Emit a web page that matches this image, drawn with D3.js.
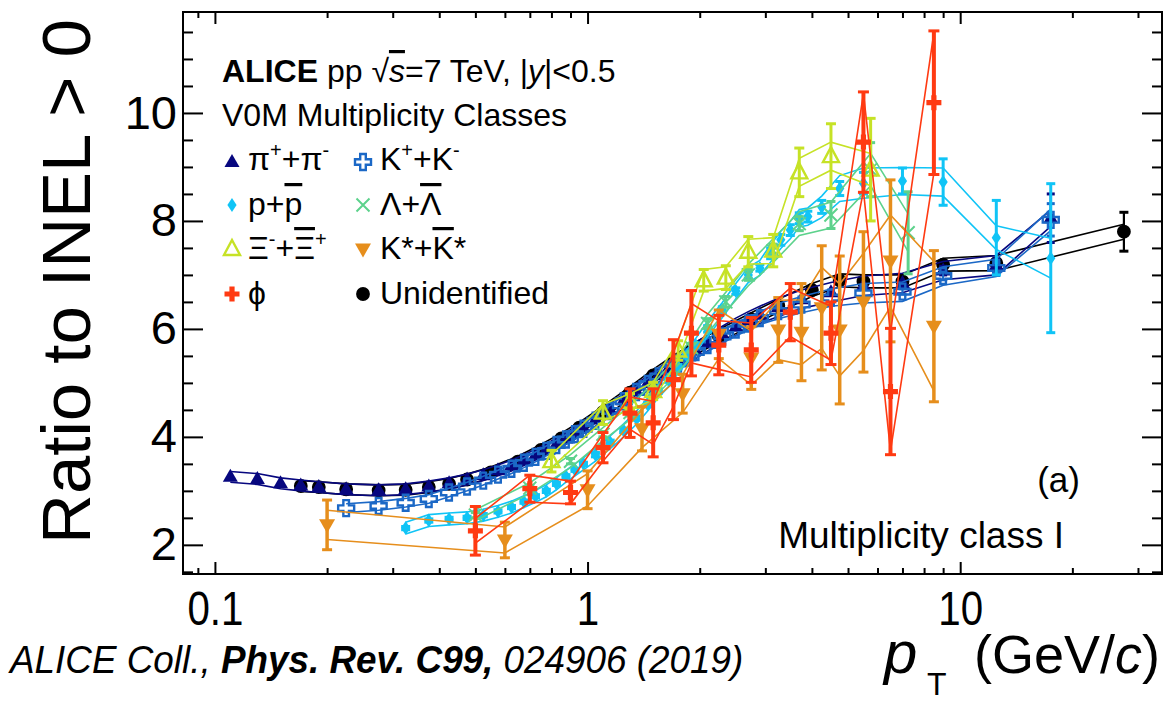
<!DOCTYPE html>
<html><head><meta charset="utf-8">
<script src="https://cdnjs.cloudflare.com/ajax/libs/d3/7.8.5/d3.min.js"></script>
<style>
body{margin:0;background:#fff}
svg{display:block}
text{font-family:"Liberation Sans",Arial,Helvetica,sans-serif;fill:#000}
</style></head>
<body><svg id="c" width="1166" height="705"></svg>
<script>
// ---------- tick labels ----------
const xMajor=[0.1,1,10];
const xMinor=[0.09,0.2,0.3,0.4,0.5,0.6,0.7,0.8,0.9,2,3,4,5,6,7,8,9,20,30];
const yMajor=[2,4,6,8,10];
const yMinor=[1.5,2.5,3,3.5,4.5,5,5.5,6.5,7,7.5,8.5,9,9.5,10.5,11,11.5];

// ---------- data (ratio to INEL>0, multiplicity class I) ----------
const pionPt=[0.11,0.13,0.15,0.17,0.19,0.225,0.275,0.325,0.375,0.425,0.475,0.525,0.575,0.625,0.675,0.725,0.775,0.825,0.875,0.925,0.975,1.05,1.15,1.25,1.35,1.45,1.55,1.65,1.75,1.85,1.95,2.1,2.3,2.5,2.7,2.9,3.25,3.75,4.5,5.5,7,9,12.5,17.5];
const pionVal=[3.26,3.22,3.14,3.10,3.07,3.03,3.01,3.03,3.08,3.14,3.21,3.29,3.38,3.47,3.57,3.67,3.77,3.87,3.97,4.07,4.17,4.32,4.50,4.68,4.85,5.00,5.14,5.27,5.39,5.50,5.60,5.74,5.90,6.04,6.16,6.26,6.40,6.55,6.68,6.80,6.85,7.08,7.18,8.05];
const pionSys=[0.10,0.10,0.10,0.10,0.10,0.10,0.10,0.10,0.10,0.10,0.10,0.10,0.10,0.10,0.10,0.10,0.10,0.11,0.11,0.11,0.11,0.12,0.12,0.12,0.13,0.13,0.13,0.14,0.14,0.14,0.15,0.15,0.15,0.16,0.16,0.16,0.17,0.17,0.18,0.18,0.18,0.17,0.18,0.15];
const pionStat=[0,0,0,0,0,0,0,0,0,0,0,0,0,0,0,0,0,0,0,0,0,0,0,0,0,0,0,0,0,0,0,0,0,0,0,0,0,0,0,0,0,0.08,0.12,0.45];

const kaonPt=[0.225,0.275,0.325,0.375,0.425,0.475,0.525,0.575,0.625,0.675,0.725,0.775,0.825,0.875,0.925,0.975,1.05,1.15,1.25,1.35,1.45,1.55,1.65,1.75,1.85,1.95,2.1,2.3,2.5,2.7,2.9,3.25,3.75,4.5,5.5,7,9,12.5,17.5];
const kaonVal=[2.68,2.72,2.78,2.85,2.97,3.08,3.19,3.30,3.41,3.52,3.63,3.74,3.85,3.95,4.05,4.15,4.30,4.48,4.66,4.83,4.98,5.12,5.25,5.36,5.47,5.57,5.70,5.86,5.99,6.10,6.20,6.33,6.45,6.58,6.66,6.69,6.98,7.13,8.02];
const kaonSys=[0.08,0.08,0.08,0.08,0.08,0.08,0.08,0.08,0.09,0.09,0.09,0.09,0.09,0.09,0.09,0.09,0.10,0.10,0.10,0.10,0.10,0.11,0.11,0.11,0.11,0.11,0.12,0.12,0.12,0.12,0.12,0.14,0.15,0.16,0.18,0.18,0.17,0.16,0.20];
const kaonStat=[0,0,0,0,0,0,0,0,0,0,0,0,0,0,0,0,0,0,0,0,0,0,0,0,0,0,0,0,0,0,0,0,0,0,0,0.05,0.07,0.10,0.30];

const unidPt=[0.17,0.19,0.225,0.275,0.325,0.375,0.425,0.475,0.55,0.65,0.75,0.85,0.95,1.1,1.3,1.5,1.7,1.9,2.25,2.75,3.25,4.0,4.75,5.5,7,9,12.5,27.5];
const unidVal=[3.09,3.07,3.03,3.01,3.02,3.07,3.13,3.21,3.34,3.54,3.76,3.97,4.17,4.46,4.82,5.14,5.40,5.60,5.87,6.18,6.43,6.72,6.90,6.88,6.88,7.19,7.22,7.80];
const unidSys=[0.10,0.10,0.10,0.10,0.10,0.10,0.10,0.10,0.10,0.10,0.10,0.10,0.10,0.11,0.11,0.11,0.11,0.11,0.12,0.12,0.12,0.12,0.12,0.12,0.12,0.12,0.14,0.14];
const unidStat=[0,0,0,0,0,0,0,0,0,0,0,0,0,0,0,0,0,0,0,0,0,0,0,0,0,0,0,0.36];

const protonPt=[0.325,0.375,0.425,0.475,0.525,0.575,0.625,0.675,0.725,0.775,0.825,0.875,0.925,0.975,1.05,1.15,1.25,1.35,1.45,1.55,1.65,1.75,1.85,1.95,2.1,2.3,2.5,2.7,2.9,3.1,3.3,3.5,3.7,3.9,4.25,4.75,5.5,7,9,12.5,17.5];
const protonVal=[2.31,2.45,2.48,2.50,2.55,2.62,2.70,2.80,2.90,3.00,3.13,3.27,3.39,3.50,3.67,3.90,4.12,4.35,4.60,4.85,5.05,5.30,5.50,5.70,6.00,6.35,6.70,7.00,7.13,7.40,7.65,7.83,8.05,8.08,8.26,8.60,8.70,8.74,8.72,7.69,7.31];
const protonSys=[0.11,0.11,0.11,0.11,0.11,0.11,0.11,0.11,0.11,0.11,0.11,0.11,0.11,0.11,0.12,0.12,0.12,0.12,0.12,0.12,0.12,0.12,0.12,0.12,0.14,0.14,0.14,0.14,0.14,0.16,0.16,0.16,0.16,0.16,0.20,0.24,0.28,0.25,0.26,0.22,0.37];
const protonStat=[0.03,0.03,0.03,0.03,0.03,0.03,0.03,0.03,0.03,0.03,0.03,0.03,0.03,0.03,0.04,0.04,0.04,0.04,0.04,0.04,0.04,0.04,0.04,0.04,0.06,0.06,0.06,0.06,0.06,0.10,0.10,0.10,0.10,0.10,0.12,0.13,0.20,0.24,0.43,0.69,1.38];

const lambdaPt=[0.5,0.7,0.9,1.1,1.3,1.5,1.7,1.9,2.1,2.35,2.7,3.15,3.7,4.5,5.75,7.25];
const lambdaVal=[2.55,3.05,3.55,4.05,4.45,4.85,5.25,5.65,6.10,6.50,7.00,7.45,7.95,8.11,8.95,7.78];
const lambdaSys=[0.10,0.10,0.12,0.12,0.13,0.14,0.15,0.16,0.17,0.18,0.20,0.22,0.22,0.24,0.30,0.35];
const lambdaStat=[0.05,0.05,0.05,0.05,0.06,0.07,0.08,0.08,0.09,0.10,0.10,0.12,0.13,0.25,0.50,0.76];

const xiPt=[0.8,1.1,1.3,1.5,1.75,2.05,2.35,2.7,3.15,3.7,4.5,5.75];
const xiVal=[3.55,4.45,4.65,4.85,5.60,6.90,6.95,7.43,7.45,8.90,9.20,8.95];
const xiSys=[0.12,0.15,0.15,0.16,0.18,0.20,0.20,0.23,0.24,0.26,0.26,0.30];
const xiStat=[0.20,0.22,0.15,0.16,0.18,0.20,0.22,0.28,0.30,0.45,0.60,0.95];

const kstarPt=[0.2,0.6,1.0,1.4,1.8,2.25,2.75,3.25,3.75,4.25,4.75,5.5,6.5,8.5];
const kstarVal=[2.37,2.09,3.02,4.15,4.80,5.90,5.46,5.98,5.94,6.39,5.98,6.50,7.26,6.05];
const kstarSys=[0.27,0.24,0.30,0.35,0.35,0.45,0.50,0.55,0.60,0.75,0.85,0.90,0.85,1.20];
const kstarStat=[0.46,0.33,0.35,0.41,0.36,0.45,0.58,0.60,0.90,1.15,1.37,1.30,1.50,1.40];

const phiPt=[0.5,0.7,0.9,1.1,1.3,1.5,1.7,1.9,2.25,2.75,3.5,4.5,5.5,6.5,8.5];
const phiVal=[2.26,3.04,2.97,3.80,4.44,4.26,5.06,5.92,5.70,5.61,6.31,5.92,9.46,4.84,10.19];
const phiSys=[0.23,0.25,0.21,0.25,0.30,0.40,0.50,0.55,0.45,0.50,0.45,0.50,0.90,1.10,1.30];
const phiStat=[0.45,0.25,0.21,0.28,0.45,0.63,0.74,0.79,0.55,0.60,0.53,0.58,0.93,1.17,1.33];

// ---------- setup ----------
const W=1166,H=705;
const L=183,R=1162,T=12,B=574;
const svg=d3.select("#c");
svg.append("rect").attr("width",W).attr("height",H).attr("fill","#fff");
const x=d3.scaleLog().domain([0.0821,34.8]).range([L,R]);
const y=d3.scaleLinear().domain([1.46,11.87]).range([B,T]);

svg.append("defs").append("clipPath").attr("id","clip")
  .append("rect").attr("x",L).attr("y",T).attr("width",R-L).attr("height",B-T);

const series=[
 {pt:unidPt,val:unidVal,sys:unidSys,stat:unidStat,color:"#000000",marker:"circle",bw:2.2,cap:9},
 {pt:pionPt,val:pionVal,sys:pionSys,stat:pionStat,color:"#07077f",marker:"triUp",bw:2.2,cap:8},
 {pt:kaonPt,val:kaonVal,sys:kaonSys,stat:kaonStat,color:"#1b68c6",marker:"openCross",bw:2.2,cap:8},
 {pt:protonPt,val:protonVal,sys:protonSys,stat:protonStat,color:"#10c4f6",marker:"diamond",bw:3,cap:9},
 {pt:lambdaPt,val:lambdaVal,sys:lambdaSys,stat:lambdaStat,color:"#5dd28c",marker:"x",bw:3,cap:9},
 {pt:xiPt,val:xiVal,sys:xiSys,stat:xiStat,color:"#c6e226",marker:"openTri",bw:3,cap:10},
 {pt:kstarPt,val:kstarVal,sys:kstarSys,stat:kstarStat,color:"#e68e1c",marker:"triDown",bw:3.5,cap:10},
 {pt:phiPt,val:phiVal,sys:phiSys,stat:phiStat,color:"#ff3a12",marker:"plus",bw:4,cap:11}
];

function drawMarker(g,type,color,cx,cy){
  const t=`translate(${cx},${cy})`;
  const p=g.append("path").attr("transform",t);
  switch(type){
    case "circle": p.attr("d",d3.symbol(d3.symbolCircle,150)()).attr("fill",color); break;
    case "triUp": p.attr("d","M0,-8L7.5,5L-7.5,5Z").attr("fill",color); break;
    case "triDown": p.attr("d","M0,8.5L8,-5.5L-8,-5.5Z").attr("fill",color); break;
    case "openCross": p.attr("d","M-2.8,-8H2.8V-2.8H8V2.8H2.8V8H-2.8V2.8H-8V-2.8H-2.8Z").attr("fill","none").attr("stroke",color).attr("stroke-width",2.4); break;
    case "diamond": p.attr("d","M0,-7L4.6,0L0,7L-4.6,0Z").attr("fill",color); break;
    case "x": p.attr("d","M-6.5,-6.5L6.5,6.5M-6.5,6.5L6.5,-6.5").attr("fill","none").attr("stroke",color).attr("stroke-width",2); break;
    case "openTri": p.attr("d","M0,-9L8,6L-8,6Z").attr("fill","none").attr("stroke",color).attr("stroke-width",2.4); break;
    case "plus": p.attr("d","M-2.6,-7.5H2.6V-2.6H7.5V2.6H2.6V7.5H-2.6V2.6H-7.5V-2.6H-2.6Z").attr("fill",color); break;
  }
}

const plot=svg.append("g").attr("clip-path","url(#clip)");
series.forEach(s=>{
  const d=s.pt.map((p,i)=>({p,v:s.val[i],sy:s.sys[i],st:s.stat[i]}));
  const g=plot.append("g");
  const hi=d3.line().x(e=>x(e.p)).y(e=>y(e.v+e.sy));
  const lo=d3.line().x(e=>x(e.p)).y(e=>y(e.v-e.sy));
  g.append("path").attr("d",hi(d)).attr("fill","none").attr("stroke",s.color).attr("stroke-width",1.6);
  g.append("path").attr("d",lo(d)).attr("fill","none").attr("stroke",s.color).attr("stroke-width",1.6);
  d.filter(e=>e.st>0).forEach(e=>{
    const cx=x(e.p),y1=y(e.v+e.st),y2=y(e.v-e.st);
    g.append("line").attr("x1",cx).attr("x2",cx).attr("y1",y1).attr("y2",y2)
      .attr("stroke",s.color).attr("stroke-width",s.bw);
    [y1,y2].forEach(yy=>g.append("line").attr("x1",cx-s.cap/2).attr("x2",cx+s.cap/2)
      .attr("y1",yy).attr("y2",yy).attr("stroke",s.color).attr("stroke-width",3));
  });
  d.forEach(e=>drawMarker(g,s.marker,s.color,x(e.p),y(e.v)));
});

// ---------- axes (ticks inward) ----------
const axStyle=g=>{g.select(".domain").remove();g.selectAll("line").attr("stroke","#000").attr("stroke-width",2);};
svg.append("g").attr("transform",`translate(0,${B})`)
  .call(d3.axisBottom(x).tickValues(xMajor).tickSize(-12).tickSizeOuter(0).tickPadding(17).tickFormat(d=>String(d)))
  .call(axStyle)
  .call(g=>g.selectAll("text").attr("font-size",48).attr("font-family","Liberation Sans, Arial").attr("transform","scale(0.84,1)"));
svg.append("g").attr("transform",`translate(0,${B})`)
  .call(d3.axisBottom(x).tickValues(xMinor).tickSize(-6).tickSizeOuter(0).tickFormat(""))
  .call(axStyle);
svg.append("g").attr("transform",`translate(0,${T})`)
  .call(d3.axisTop(x).tickValues(xMajor).tickSize(-12).tickSizeOuter(0).tickFormat("")).call(axStyle);
svg.append("g").attr("transform",`translate(0,${T})`)
  .call(d3.axisTop(x).tickValues(xMinor).tickSize(-6).tickSizeOuter(0).tickFormat("")).call(axStyle);
svg.append("g").attr("transform",`translate(${L},0)`)
  .call(d3.axisLeft(y).tickValues(yMajor).tickSize(-20).tickSizeOuter(0).tickPadding(6).tickFormat(d=>String(d)))
  .call(axStyle)
  .call(g=>g.selectAll("text").attr("font-size",47).attr("font-family","Liberation Sans, Arial"));
svg.append("g").attr("transform",`translate(${L},0)`)
  .call(d3.axisLeft(y).tickValues(yMinor).tickSize(-10).tickSizeOuter(0).tickFormat("")).call(axStyle);
svg.append("g").attr("transform",`translate(${R},0)`)
  .call(d3.axisRight(y).tickValues(yMajor).tickSize(-20).tickSizeOuter(0).tickFormat("")).call(axStyle);
svg.append("g").attr("transform",`translate(${R},0)`)
  .call(d3.axisRight(y).tickValues(yMinor).tickSize(-10).tickSizeOuter(0).tickFormat("")).call(axStyle);
svg.append("rect").attr("x",L).attr("y",T).attr("width",R-L).attr("height",B-T)
  .attr("fill","none").attr("stroke","#000").attr("stroke-width",2);

// ---------- axis titles ----------
svg.append("text").attr("transform","translate(90,281.5) rotate(-90)")
  .attr("text-anchor","middle").attr("font-size",69).text("Ratio to INEL > 0");

const xt=svg.append("text").attr("y",673).attr("font-size",54);
xt.append("tspan").attr("x",884).attr("font-style","italic").attr("font-size",60).text("p");
xt.append("tspan").attr("x",927).attr("dy",22).attr("font-size",32).text("T");
xt.append("tspan").attr("x",974).attr("dy",-22).text("(GeV/");
xt.append("tspan").attr("font-style","italic").text("c");
xt.append("tspan").text(")");

const cit=svg.append("text").attr("transform","translate(10,673) scale(0.97,1)")
  .attr("font-size",38).attr("font-style","italic");
cit.append("tspan").text("ALICE Coll., ");
cit.append("tspan").attr("font-weight","bold").text("Phys. Rev. C99,");
cit.append("tspan").text(" 024906 (2019)");

// ---------- header / legend ----------
const h1=svg.append("text").attr("x",222).attr("y",82).attr("font-size",32);
h1.append("tspan").attr("font-weight","bold").text("ALICE");
h1.append("tspan").text(" pp \u221A");
h1.append("tspan").attr("font-style","italic").style("text-decoration","overline").text("s");
h1.append("tspan").text("=7 TeV, |");
h1.append("tspan").attr("font-style","italic").text("y");
h1.append("tspan").text("|<0.5");
svg.append("text").attr("x",222).attr("y",126).attr("font-size",32).text("V0M Multiplicity Classes");

const leg=svg.append("g");
const legItems=[
 {m:"triUp",c:"#07077f",x:232,y:162,tx:248,ty:170,parts:[["\u03C0"],["+","sup"],["+\u03C0"],["-","sup"]]},
 {m:"openCross",c:"#1b68c6",x:363,y:162,tx:380,ty:170,parts:[["K"],["+","sup"],["+K"],["-","sup"]]},
 {m:"diamond",c:"#10c4f6",x:232,y:205,tx:248,ty:215,parts:[["p+"],["p","bar"]]},
 {m:"x",c:"#5dd28c",x:363,y:205,tx:380,ty:215,parts:[["\u039B+"],["\u039B","bar"]]},
 {m:"openTri",c:"#c6e226",x:232,y:249,tx:248,ty:259,parts:[["\u039E"],["-","sup"],["+"],["\u039E","bar"],["+","sup"]]},
 {m:"triDown",c:"#e68e1c",x:363,y:249,tx:380,ty:259,parts:[["K*+"],["K","bar"],["*"]]},
 {m:"plus",c:"#ff3a12",x:232,y:294,tx:248,ty:304,parts:[["\u03D5"]]},
 {m:"circle",c:"#000000",x:363,y:294,tx:380,ty:304,parts:[["Unidentified"]]}
];
legItems.forEach(it=>{
  drawMarker(leg,it.m,it.c,it.x,it.y);
  const t=leg.append("text").attr("x",it.tx).attr("y",it.ty).attr("font-size",32);
  let shifted=false;
  it.parts.forEach(([s,k])=>{
    const sp=t.append("tspan").text(s);
    if(k==="sup"){sp.attr("font-size",20).attr("dy",shifted?0:-13);shifted=true;}
    else{ if(shifted){sp.attr("dy",13);shifted=false;}
      if(k==="bar") sp.style("text-decoration","overline"); }
  });
});

svg.append("text").attr("x",1080).attr("y",492).attr("text-anchor","end").attr("font-size",35).text("(a)");
svg.append("text").attr("x",1064).attr("y",548).attr("text-anchor","end").attr("font-size",37).text("Multiplicity class I");
</script></body></html>
